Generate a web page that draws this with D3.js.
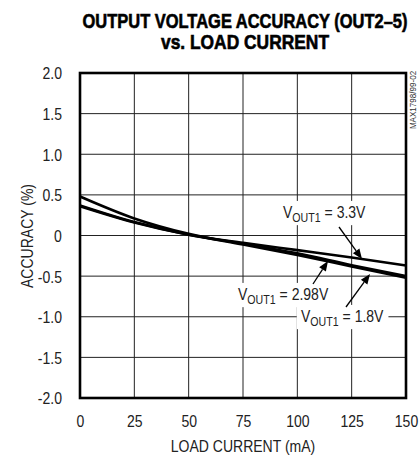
<!DOCTYPE html>
<html><head><meta charset="utf-8">
<script src="https://cdn.jsdelivr.net/npm/d3@7"></script>
<style>body{margin:0;background:#fff}svg{display:block}</style>
</head><body>
<svg id="c" width="419" height="457"></svg>
<script>
const currents = [0, 25, 50, 75, 100, 125, 150];
const v33 = [0.36, 0.16, 0.01, -0.09, -0.18, -0.27, -0.37];
const v298 = [0.37, 0.165, 0.01, -0.10, -0.22, -0.365, -0.50];
const v18 = [0.48, 0.21, 0.02, -0.11, -0.24, -0.38, -0.52];
const xTicks = [0, 25, 50, 75, 100, 125, 150];
const yTicks = [-2, -1.5, -1, -0.5, 0, 0.5, 1, 1.5, 2];
const yTickLabels = ["-2.0", "-1.5", "-1.0", "-0.5", "0", "0.5", "1.0", "1.5", "2.0"];

const svg = d3.select("#c");
const x = d3.scaleLinear().domain([0, 150]).range([80, 406]);
const y = d3.scaleLinear().domain([-2, 2]).range([398, 73]);
const tickFont = "'Liberation Sans', Arial, sans-serif";
const SX = 0.85, FS = 16.5;

// title
const title = svg.append("g").attr("font-family", "'Liberation Sans', Arial, sans-serif")
  .attr("font-weight", "bold").attr("text-anchor", "middle").attr("fill", "#000")
  .attr("stroke", "#000").attr("stroke-width", 0.5);
title.append("text").attr("transform", "translate(245,27.5) scale(1,1.22)").attr("font-size", 16)
  .attr("textLength", 325).attr("lengthAdjust", "spacingAndGlyphs").text("OUTPUT VOLTAGE ACCURACY (OUT2–5)");
title.append("text").attr("transform", "translate(245,48.5) scale(1,1.22)").attr("font-size", 16)
  .attr("textLength", 168).attr("lengthAdjust", "spacingAndGlyphs").text("vs. LOAD CURRENT");

// grid
const grid = svg.append("g").attr("stroke", "#222").attr("stroke-width", 1);
grid.selectAll("line.v").data(xTicks.slice(1, -1)).join("line")
  .attr("x1", d => x(d)).attr("x2", d => x(d)).attr("y1", y(2)).attr("y2", y(-2));
grid.selectAll("line.h").data(yTicks.slice(1, -1)).join("line")
  .attr("x1", x(0)).attr("x2", x(150)).attr("y1", d => y(d)).attr("y2", d => y(d));

// axes labels via d3 axes
const xAxis = svg.append("g").attr("transform", `translate(0,${y(-2)})`)
  .call(d3.axisBottom(x).tickValues(xTicks).tickSize(0).tickPadding(17));
xAxis.select(".domain").remove();
xAxis.selectAll("text").attr("font-family", tickFont).attr("font-size", FS).attr("fill", "#222")
  .attr("transform", `scale(${SX},1)`);

const yAxis = svg.append("g").attr("transform", `translate(${x(0)},0)`)
  .call(d3.axisLeft(y).tickValues(yTicks).tickFormat((d, i) => yTickLabels[i]).tickSize(0).tickPadding(18));
yAxis.select(".domain").remove();
yAxis.selectAll("text").attr("font-family", tickFont).attr("font-size", FS).attr("fill", "#222").attr("dy", "0.36em")
  .attr("x", -18 / SX).attr("transform", `scale(${SX},1)`);
yAxis.selectAll(".tick").filter(d => d === 0).select("text").attr("text-anchor", "middle").attr("x", -22 / SX);

svg.append("text").attr("transform", `translate(243,452) scale(${SX},1)`).attr("text-anchor", "middle")
  .attr("font-family", tickFont).attr("font-size", FS).attr("fill", "#222").text("LOAD CURRENT (mA)");
svg.append("text").attr("transform", `translate(33,236) rotate(-90) scale(${SX},1)`).attr("text-anchor", "middle")
  .attr("font-family", tickFont).attr("font-size", FS).attr("fill", "#222").text("ACCURACY (%)");

// watermark
svg.append("text").attr("transform", "translate(416,100) rotate(-90) scale(0.85,1)").attr("text-anchor", "middle")
  .attr("font-family", tickFont).attr("font-size", 9.5).attr("fill", "#333").text("MAX1798/99-02");

// annotation labels with white backgrounds
const labels = [
  {t: " = 3.3V", x: 283, y: 218},
  {t: " = 2.98V", x: 238, y: 300},
  {t: " = 1.8V", x: 301, y: 322}
];
labels.forEach(l => {
  const g = svg.append("g").attr("transform", `translate(${l.x},${l.y}) scale(${SX},1)`);
  const rect = g.append("rect").attr("fill", "#fff");
  const tx = g.append("text").attr("x", 0).attr("y", 0).attr("font-family", tickFont)
    .attr("font-size", FS).attr("fill", "#222");
  tx.append("tspan").text("V");
  tx.append("tspan").attr("font-size", 12.5).attr("dy", 4).text("OUT1");
  tx.append("tspan").attr("dy", -4).text(l.t);
  const b = tx.node().getBBox();
  rect.attr("x", b.x - 5).attr("y", b.y - 2).attr("width", b.width + 10).attr("height", b.height + 3);
});

// lines
const line = arr => d3.line().x((d, i) => x(currents[i])).y(d => y(d)).curve(d3.curveMonotoneX)(arr);
const lines = svg.append("g").attr("fill", "none").attr("stroke", "#000").attr("stroke-width", 2.6);
lines.append("path").attr("d", line(v18));
lines.append("path").attr("d", line(v298));
lines.append("path").attr("d", line(v33));

// arrows
const arrows = [
  {x1: 339, y1: 227, x2: 362, y2: 259},
  {x1: 313, y1: 284, x2: 328, y2: 261},
  {x1: 346, y1: 307, x2: 370, y2: 274}
];
arrows.forEach(a => {
  const dx = a.x2 - a.x1, dy = a.y2 - a.y1, L = Math.hypot(dx, dy);
  const ux = dx / L, uy = dy / L, hl = 10, hw = 4;
  const bx = a.x2 - ux * hl, by = a.y2 - uy * hl;
  svg.append("line").attr("x1", a.x1).attr("y1", a.y1).attr("x2", bx).attr("y2", by)
    .attr("stroke", "#000").attr("stroke-width", 1.3);
  svg.append("path").attr("d", `M${a.x2},${a.y2}L${bx - uy * hw},${by + ux * hw}L${bx + uy * hw},${by - ux * hw}Z`)
    .attr("fill", "#000");
});

// frame
svg.append("rect").attr("x", x(0)).attr("y", y(2)).attr("width", x(150) - x(0)).attr("height", y(-2) - y(2))
  .attr("fill", "none").attr("stroke", "#000").attr("stroke-width", 2.6);
</script>
</body></html>
